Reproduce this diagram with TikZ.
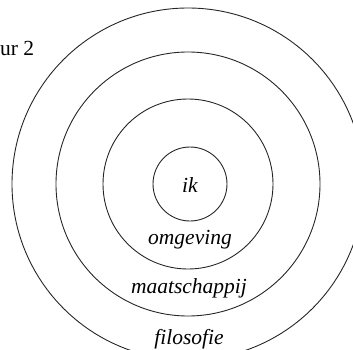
\documentclass[tikz,border=0pt]{standalone}
\usepackage{fontspec}
\setmainfont{Liberation Serif}
\begin{document}
\begin{tikzpicture}[x=1pt,y=1pt,
  ring/.style={draw=black!85,line width=0.9pt},
  lbl/.style={anchor=base,inner sep=0pt,font=\fontsize{21.5}{25}\selectfont\itshape}]
\clip (0,0) rectangle (353,349);
\coordinate (mid) at (188,165);

% the four rings
\draw[ring] (mid) ++(2,0) circle (37);
\draw[ring] (mid) circle (85);
\draw[ring] (mid) circle (132);
\draw[ring] (mid) circle (176);

\node[lbl] (ik) at (190,157) {ik};
\node[lbl] (omg) at (190,105) {omgeving};
\node[lbl] (maat) at (189,56) {maatschappij};
\node[lbl] (filo) at (189,5) {filosofie};

\node[anchor=base west,inner sep=0pt,font=\fontsize{21.5}{25}\selectfont] (fig) at (0,294) {ur 2};
\end{tikzpicture}
\end{document}
